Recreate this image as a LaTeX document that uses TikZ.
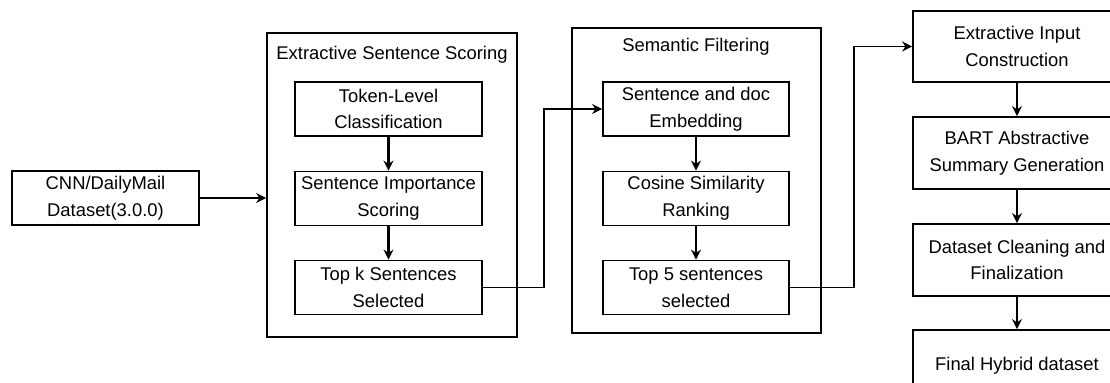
\documentclass[tikz,border=0pt]{standalone}
\usepackage{fontspec}
\setmainfont{Liberation Sans}
\usetikzlibrary{arrows.meta}
\tikzset{
  stage/.style={draw, line width=0.85pt, align=center, inner sep=0pt, font=\fontsize{9.2}{13.3}\selectfont},
  group/.style={draw, line width=0.85pt, inner sep=0pt},
  grouptitle/.style={font=\fontsize{9.2}{13.3}\selectfont},
  flow/.style={-{Stealth[length=5pt,width=5pt]}, line width=0.85pt},
  thickflow/.style={flow, line width=1.35pt},
}
\begin{document}
\begin{tikzpicture}[x=0.5pt,y=-0.5pt]
\useasboundingbox (0,0) rectangle (1110,383);
\clip (0,0) rectangle (1110,383);

% input
\node[stage, minimum width=93.5pt, minimum height=27pt] (src) at (105.5,198) {CNN/DailyMail\\Dataset(3.0.0)};

% extractive scoring
\node[group, minimum width=125pt, minimum height=152pt] (g1) at (392,185) {};
\node[grouptitle] (g1t) at (392,55) {Extractive Sentence Scoring};
\node[stage, minimum width=93.5pt, minimum height=27pt] (tok) at (388.5,109) {Token-Level\\Classification};
\node[stage, minimum width=93.5pt, minimum height=27pt] (imp) at (388.5,198.5) {Sentence Importance\\Scoring};
\node[stage, minimum width=93.5pt, minimum height=27pt] (topk) at (388.5,287.5) {Top k Sentences\\Selected};

% semantic filtering
\node[group, minimum width=124.5pt, minimum height=152.5pt] (g2) at (696.5,180.5) {};
\node[grouptitle] (g2t) at (696,47) {Semantic Filtering};
\node[stage, minimum width=93pt, minimum height=27pt] (emb) at (696,109) {Sentence and doc\\Embedding};
\node[stage, minimum width=93pt, minimum height=27pt] (cos) at (696,198.5) {Cosine Similarity\\Ranking};
\node[stage, minimum width=93pt, minimum height=27pt] (top5) at (696,287.5) {Top 5 sentences\\selected};

% generation column
\node[stage, minimum width=104pt, minimum height=35.5pt] (inp) at (1017,46.5) {Extractive Input\\Construction};
\node[stage, minimum width=104pt, minimum height=36pt] (bart) at (1017,153) {BART Abstractive\\Summary Generation};
\node[stage, minimum width=104pt, minimum height=36pt] (clean) at (1017,260) {Dataset Cleaning and\\Finalization};
\node[stage, minimum width=104pt, minimum height=35.5pt] (final) at (1017,365.5) {Final Hybrid dataset};

\draw[flow] (src.east) -- (src.east -| g1.west);
\draw[thickflow] (tok) -- (imp);
\draw[thickflow] (imp) -- (topk);
\draw[flow] (topk.east) -- ++(61,0) |- (emb.west);
\draw[flow] (emb) -- (cos);
\draw[flow] (cos) -- (top5);
\draw[flow] (top5.east) -- ++(64,0) |- (inp.west);
\foreach \a/\b in {inp/bart, bart/clean, clean/final}
  \draw[flow] (\a) -- (\b);
\end{tikzpicture}
\end{document}
